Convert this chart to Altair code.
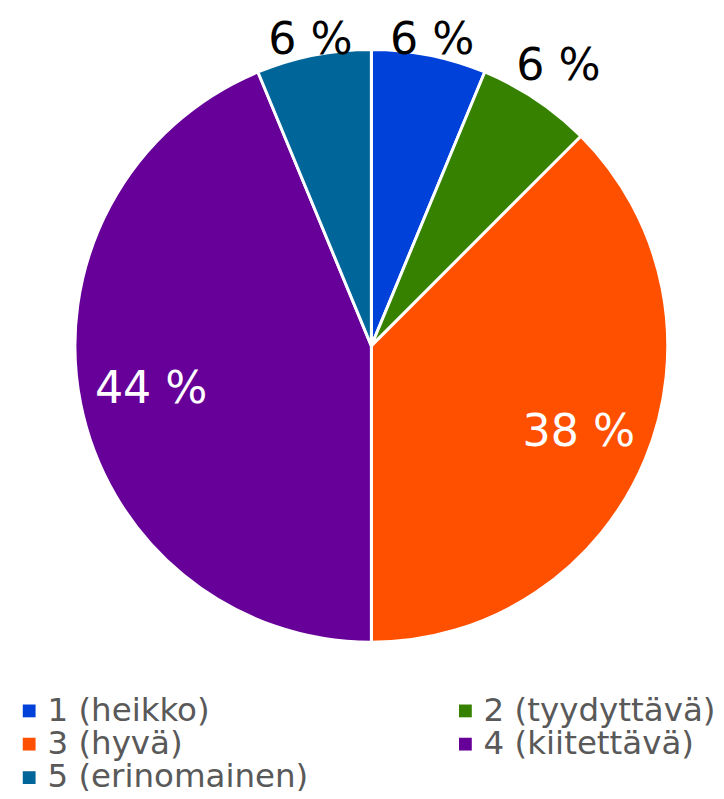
import altair as alt
import pandas as pd

categories = ["1 (heikko)", "2 (tyydyttävä)", "3 (hyvä)", "4 (kiitettävä)", "5 (erinomainen)"]
counts = [1, 1, 6, 7, 1]
labels = ["6 %", "6 %", "38 %", "44 %", "6 %"]
colors = ["#0041D9", "#368200", "#FF5000", "#660099", "#006699"]

# legend is filled column by column, so list entries so that rows read 1 2 / 3 4 / 5
legend_order = [0, 2, 4, 1, 3]
legend_domain = [categories[i] for i in legend_order]
legend_range = [colors[i] for i in legend_order]

df = pd.DataFrame({
    "idx": list(range(len(categories))),
    "cat": categories,
    "count": counts,
    "label": labels,
})

base = alt.Chart(df)

pie = base.mark_arc(outerRadius=301, stroke="white", strokeWidth=3).encode(
    theta=alt.Theta("count:Q", stack=True),
    order=alt.Order("idx:Q"),
    color=alt.Color(
        "cat:N",
        scale=alt.Scale(domain=legend_domain, range=legend_range),
        legend=alt.Legend(
            title=None,
            orient="none",
            legendX=-14,
            legendY=691,
            columns=2,
            columnPadding=142,
            rowPadding=-4,
            padding=0,
            symbolType="square",
            symbolSize=169,
            symbolStrokeWidth=0,
            labelFont="DejaVu Sans",
            labelFontSize=33,
            labelColor="#595959",
            labelOffset=2,
            labelLimit=400,
        ),
    ),
)

text = base.transform_joinaggregate(
    total="sum(count)"
).transform_window(
    cum="sum(count)", sort=[alt.SortField("idx")], frame=[None, 0]
).transform_calculate(
    mid="(datum.cum - datum.count / 2) / datum.total * 2 * PI",
    frac="datum.count / datum.total",
).transform_calculate(
    r="datum.frac > 0.1 ? 228 : 303 + 70 * abs(sin(datum.mid))",
    tc="datum.frac > 0.1 ? 'white' : 'black'",
).mark_text(font="DejaVu Sans", fontSize=45, align="center", baseline="middle").encode(
    theta=alt.Theta("mid:Q", scale=None, stack=False),
    radius=alt.Radius("r:Q", scale=None),
    text="label:N",
    color=alt.Color("tc:N", scale=None),
)

chart = alt.layer(pie, text).properties(
    width=700,
    height=674,
    padding={"left": 19, "top": 0, "right": 0, "bottom": 109},
    autosize=alt.AutoSizeParams(type="none"),
).configure_view(stroke=None)

chart.save("out.html", embed_options={"renderer": "svg", "actions": False})
